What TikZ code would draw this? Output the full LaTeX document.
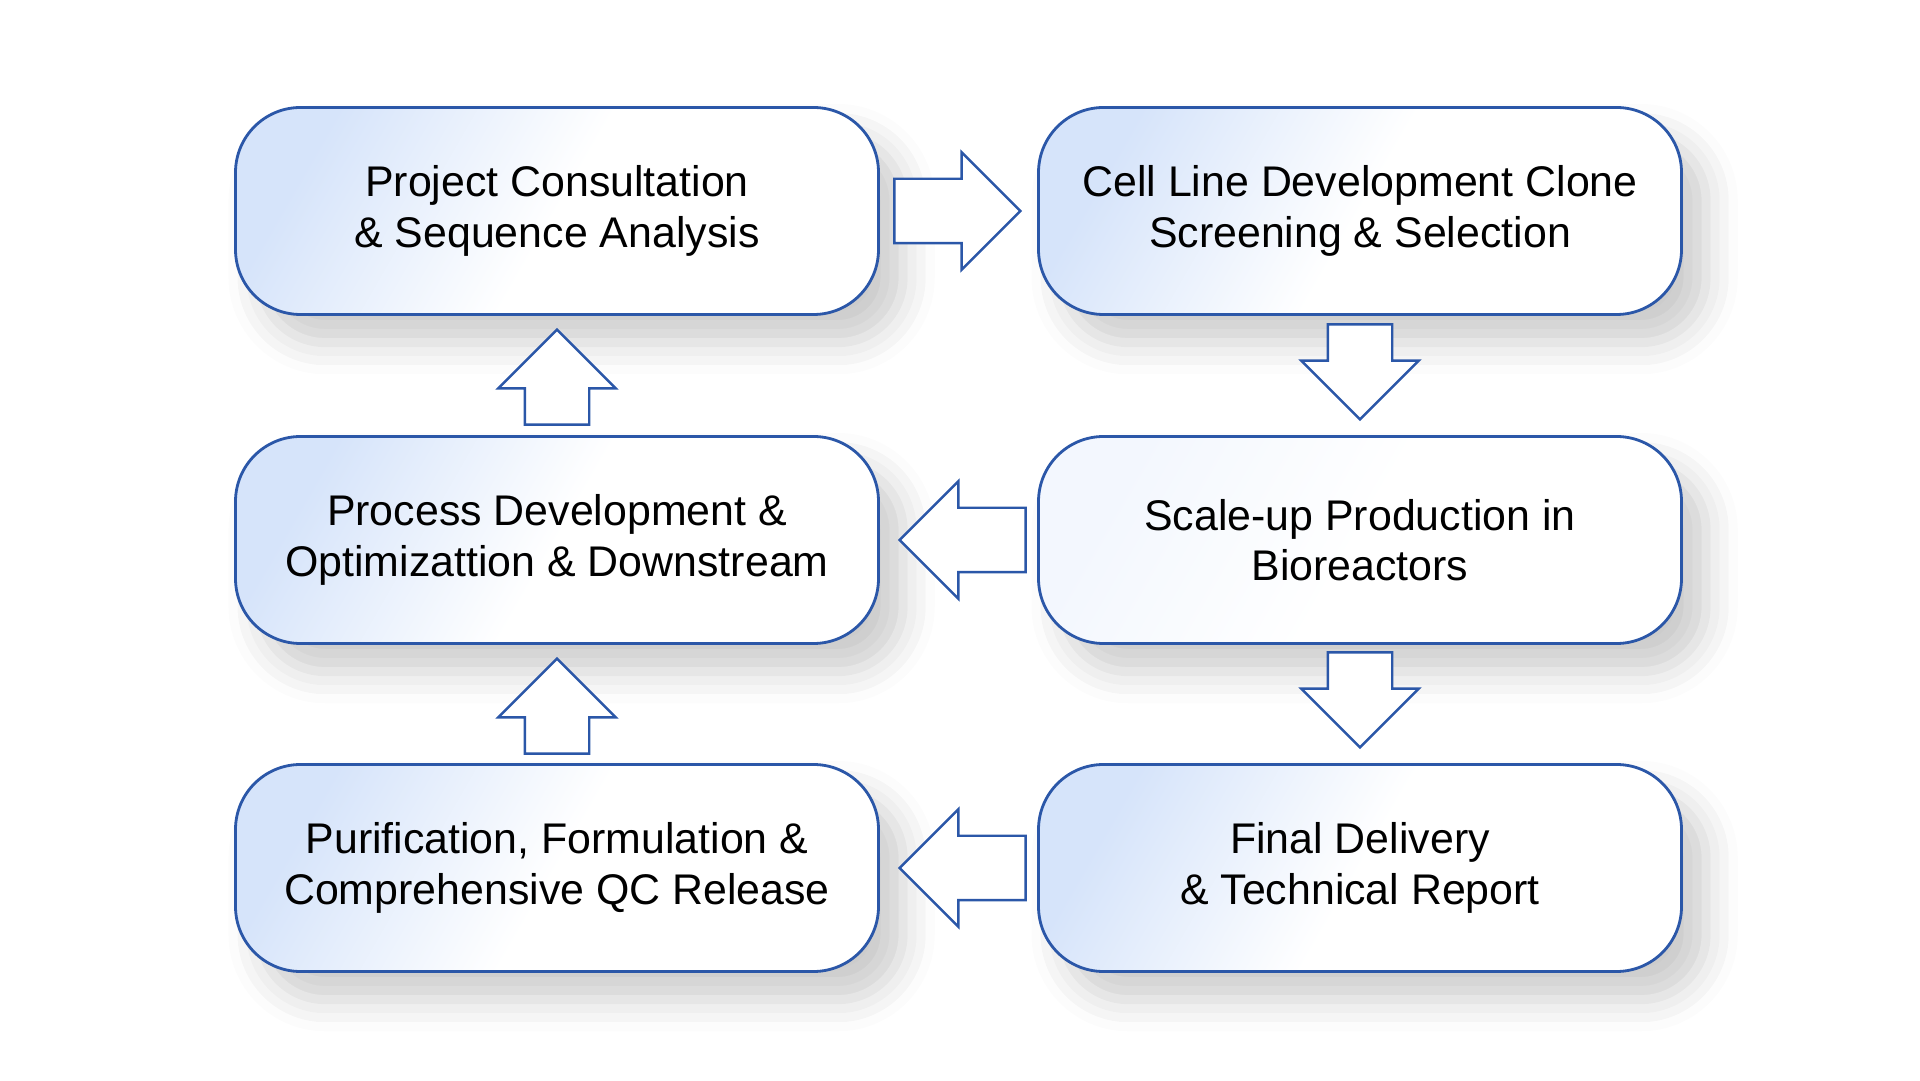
\documentclass[tikz,border=0pt]{standalone}
\usepackage{fontspec}
\setmainfont{Liberation Sans}
\usetikzlibrary{shapes.arrows,calc,shadows.blur}

\definecolor{edgeblue}{HTML}{2B57A8}
\definecolor{paleblue}{HTML}{D6E4FA}

\tikzset{
  stage/.style={draw=edgeblue, line width=0.8pt, rounded corners=0.65cm,
    minimum width=6.43cm, minimum height=2.07cm, align=center,
    font=\fontsize{12.2}{14.4}\selectfont,
    top color=paleblue, bottom color=white, middle color=white, shading angle=60,
    blur shadow={shadow xshift=7pt, shadow yshift=-8pt, shadow blur radius=9pt, shadow opacity=20}},
  flow/.style={single arrow, draw=edgeblue, line width=0.7pt, fill=white,
    inner sep=0pt, text height=0.31cm, text depth=0.31cm, anchor=tip,
    single arrow head extend=0.265cm, minimum height=1.26cm},
  flowv/.style={flow, minimum height=0.95cm}
}

\begin{document}
\begin{tikzpicture}
  \useasboundingbox (0,0) rectangle (19.2,-10.81);
  % stages, two columns
  \node[stage] (p1) at (5.57,-2.11) {Project Consultation\\ \& Sequence Analysis};
  \node[stage] (p2) at (13.60,-2.11) {Cell Line Development Clone\\Screening \& Selection};
  \node[stage, top color=paleblue!30, middle color=white, shading angle=60] (p4) at (13.60,-5.40) {Scale-up Production in\\Bioreactors};
  \node[stage] (p3) at (5.57,-5.40) {Process Development \&\\Optimizattion \& Downstream};
  \node[stage] (p6) at (13.60,-8.68) {Final Delivery\\ \& Technical Report};
  \node[stage] (p5) at (5.57,-8.68) {Purification, Formulation \&\\Comprehensive QC Release};
  % block arrows, tip just short of the next stage
  \node[flow] (f12) at ($(p2.west)+(-0.15,0)$) {};
  \node[flowv, rotate=-90] (f24) at ($(p4.north)+(0,0.14)$) {};
  \node[flow, rotate=180] (f43) at ($(p3.east)+(0.18,0)$) {};
  \node[flowv, rotate=90] (f31) at ($(p1.south)+(0,-0.12)$) {};
  \node[flowv, rotate=-90] (f46) at ($(p6.north)+(0,0.14)$) {};
  \node[flow, rotate=180] (f65) at ($(p5.east)+(0.18,0)$) {};
  \node[flowv, rotate=90] (f53) at ($(p3.south)+(0,-0.12)$) {};
\end{tikzpicture}
\end{document}
